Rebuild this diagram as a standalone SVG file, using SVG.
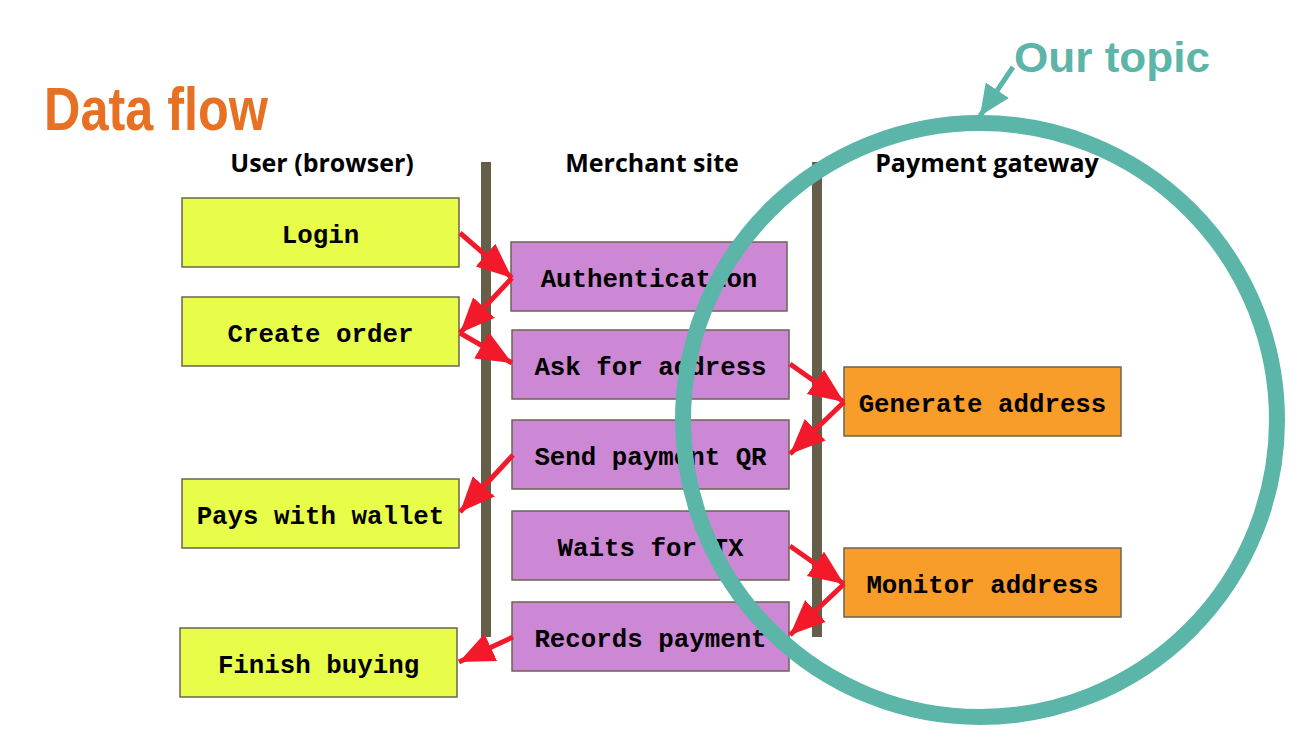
<svg xmlns="http://www.w3.org/2000/svg" width="1308" height="729" viewBox="0 0 1308 729">
<style>
.box{stroke:#6b6450;stroke-width:1.5}
.u{fill:#e8fc4a}
.m{fill:#cc88d4}
.g{fill:#f89c2a}
.lbl{font-family:"Liberation Mono","Courier New",monospace;font-weight:bold;font-size:25.8px;fill:#000;text-anchor:middle}
.hdr{font-family:"Open Sans","Noto Sans",sans-serif;font-weight:bold;font-size:25px;fill:#000;text-anchor:middle}
.bar{fill:#655e48}
.arr{stroke:#f21a2a;stroke-width:5;fill:none;marker-end:url(#ah)}
</style>
<defs>
<marker id="ah" markerUnits="userSpaceOnUse" markerWidth="38" markerHeight="32" refX="35" refY="15" orient="auto">
<path d="M0,0 L35,15 L0,30 Z" fill="#f21a2a"/>
</marker>
<marker id="ahT" markerUnits="userSpaceOnUse" markerWidth="34" markerHeight="30" refX="31" refY="14" orient="auto">
<path d="M0,0 L31,14 L0,28 Z" fill="#5bb5a8"/>
</marker>
</defs>
<rect width="1308" height="729" fill="#fff"/>
<text x="44" y="130" font-family="Liberation Sans Narrow,Liberation Sans,sans-serif" font-weight="bold" font-size="62" fill="#e87022" textLength="224" lengthAdjust="spacingAndGlyphs">Data flow</text>
<text class="hdr" x="322" y="172">User (browser)</text>
<text class="hdr" x="652" y="172">Merchant site</text>
<text class="hdr" x="987" y="172">Payment gateway</text>
<rect class="bar" x="481" y="162" width="10" height="475"/>
<rect class="bar" x="812" y="162" width="10" height="475"/>
<g id="login"><rect class="box u" x="182" y="198" width="277" height="69"/><text class="lbl" x="320.5" y="243">Login</text></g>
<g id="create-order"><rect class="box u" x="182" y="297" width="277" height="69"/><text class="lbl" x="320.5" y="342">Create order</text></g>
<g id="pays-with-wallet"><rect class="box u" x="182" y="479" width="277" height="69"/><text class="lbl" x="320.5" y="524">Pays with wallet</text></g>
<g id="finish-buying"><rect class="box u" x="180" y="628" width="277" height="69"/><text class="lbl" x="318.5" y="673">Finish buying</text></g>
<g id="authentication"><rect class="box m" x="511" y="242" width="276" height="69"/><text class="lbl" x="649" y="287">Authentication</text></g>
<g id="ask-for-address"><rect class="box m" x="512" y="330" width="277" height="69"/><text class="lbl" x="650.5" y="375">Ask for address</text></g>
<g id="send-payment-qr"><rect class="box m" x="512" y="420" width="277" height="69"/><text class="lbl" x="650.5" y="465">Send payment QR</text></g>
<g id="waits-for-tx"><rect class="box m" x="512" y="511" width="277" height="69"/><text class="lbl" x="650.5" y="556">Waits for TX</text></g>
<g id="records-payment"><rect class="box m" x="512" y="602" width="277" height="69"/><text class="lbl" x="650.5" y="647">Records payment</text></g>
<g id="generate-address"><rect class="box g" x="844" y="367" width="277" height="69"/><text class="lbl" x="982.5" y="412">Generate address</text></g>
<g id="monitor-address"><rect class="box g" x="844" y="548" width="277" height="69"/><text class="lbl" x="982.5" y="593">Monitor address</text></g>
<g id="connectors">
<line class="arr" x1="460" y1="233" x2="512" y2="278"/>
<line class="arr" x1="512" y1="278" x2="460" y2="333"/>
<line class="arr" x1="460" y1="333" x2="512" y2="363"/>
<line class="arr" x1="790" y1="364" x2="844" y2="402"/>
<line class="arr" x1="844" y1="402" x2="790" y2="454"/>
<line class="arr" x1="513" y1="455" x2="460" y2="512"/>
<line class="arr" x1="790" y1="546" x2="844" y2="584"/>
<line class="arr" x1="844" y1="584" x2="790" y2="635"/>
<line class="arr" x1="513" y1="637" x2="459" y2="662"/>
</g>
<g id="our-topic">
<circle cx="980" cy="420" r="297" fill="none" stroke="#5bb5a8" stroke-width="16"/>
<line x1="1013" y1="67" x2="980" y2="116" stroke="#5bb5a8" stroke-width="5" marker-end="url(#ahT)"/>
<text x="1014" y="72" font-family="Liberation Sans,Arial,sans-serif" font-weight="bold" font-size="43" fill="#5bb5a8" textLength="196" lengthAdjust="spacingAndGlyphs">Our topic</text>
</g>
</svg>
